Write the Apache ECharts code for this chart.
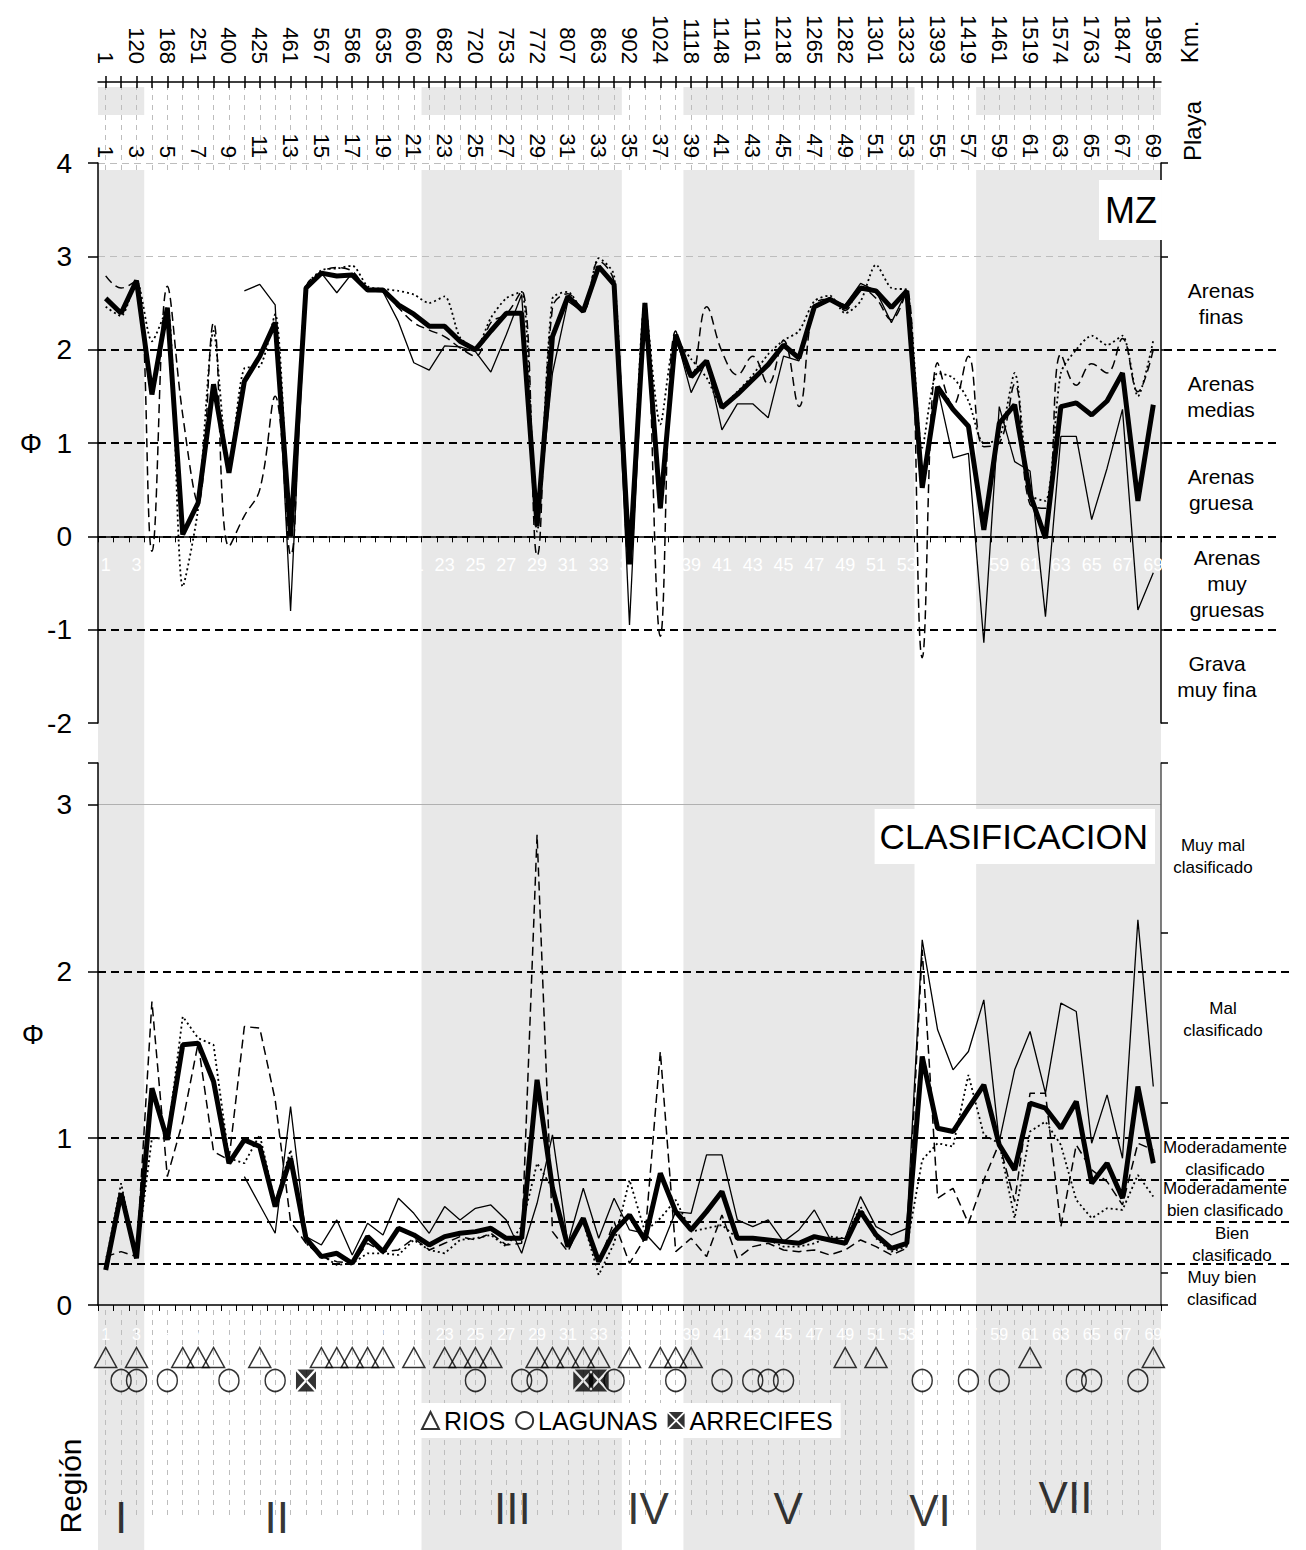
<!DOCTYPE html>
<html>
<head>
<meta charset="utf-8">
<script src="https://cdn.jsdelivr.net/npm/echarts@6/dist/echarts.min.js"></script>
<style>
  html, body { margin: 0; padding: 0; background: #fff; }
  #chart { width: 1306px; height: 1550px; }
</style>
</head>
<body>
<div id="chart"></div>
<script>
// ---------------------------------------------------------------------------
// Data
// ---------------------------------------------------------------------------
const beaches = ['1','2','3','4','5','6','7','8','9','10','11','12','13','14','15','16','17','18','19','20',
  '21','22','23','24','25','26','27','28','29','30','31','32','33','34','35','36','37','38','39','40',
  '41','42','43','44','45','46','47','48','49','50','51','52','53','54','55','56','57','58','59','60',
  '61','62','63','64','65','66','67','68','69'];

// Distance along the coast (km) for the odd-numbered beaches 1, 3, 5 ... 69
const kmOddBeaches = [1,120,168,251,400,425,461,567,586,635,660,682,720,753,772,807,863,902,
  1024,1118,1148,1161,1218,1265,1282,1301,1323,1393,1419,1461,1519,1574,1763,1847,1958];

// Mean grain size MZ (phi)
const mzPromedio = [2.55,2.39,2.74,1.52,2.45,0.02,0.36,1.63,0.68,1.66,1.93,2.29,0.00,2.66,2.82,2.79,2.80,2.64,2.64,2.48,
  2.38,2.25,2.25,2.09,2.00,2.20,2.39,2.39,0.11,2.14,2.57,2.41,2.89,2.70,-0.30,2.50,0.30,2.16,1.71,1.88,
  1.38,1.52,1.68,1.84,2.05,1.91,2.46,2.54,2.45,2.66,2.63,2.45,2.63,0.52,1.60,1.36,1.18,0.07,1.21,1.41,
  0.45,-0.02,1.39,1.43,1.30,1.45,1.75,0.38,1.41];
const mzMuestreoA = [null,null,null,null,null,null,null,null,null,2.63,2.70,2.48,-0.80,2.66,2.82,2.61,2.82,2.63,2.62,2.30,
  1.86,1.78,2.04,2.03,1.98,1.76,2.16,2.59,0.12,1.75,2.52,2.40,2.88,2.68,-0.95,2.50,0.30,2.16,1.54,1.88,
  1.14,1.42,1.42,1.27,1.93,1.88,2.45,2.54,2.48,2.71,2.63,2.29,2.63,0.55,1.59,0.84,0.89,-1.14,1.39,0.80,
  0.70,-0.86,1.07,1.07,0.18,0.73,1.36,-0.79,-0.39];
const mzMuestreoB = [2.79,2.66,2.74,-0.16,2.68,1.30,0.36,2.29,-0.11,0.22,0.50,1.50,-0.20,2.66,2.83,2.88,2.84,2.65,2.62,2.45,
  2.29,2.21,2.14,2.02,1.93,2.29,2.38,2.63,-0.21,2.45,2.60,2.42,2.95,2.72,-0.30,2.50,-1.07,2.20,1.70,2.46,
  1.98,1.73,1.93,1.63,2.10,1.39,2.48,2.54,2.42,2.66,2.55,2.32,2.63,-1.30,1.86,1.40,1.93,0.96,1.00,1.63,
  0.34,0.30,1.95,1.62,1.85,1.75,2.12,1.55,2.00];
const mzMuestreoC = [2.46,2.36,2.74,2.09,2.45,-0.54,0.30,2.20,0.70,1.80,1.82,2.38,0.00,2.66,2.85,2.87,2.90,2.68,2.65,2.63,
  2.59,2.50,2.57,2.13,2.02,2.34,2.55,2.62,0.05,2.55,2.62,2.40,2.98,2.80,-0.20,2.50,1.20,2.10,1.90,1.70,
  1.41,1.55,1.73,1.95,2.10,2.20,2.52,2.58,2.39,2.52,2.91,2.66,2.64,0.95,1.75,1.70,1.45,1.00,1.05,1.75,
  0.45,0.38,1.75,2.00,2.15,2.05,2.15,1.50,2.10];

// Sorting (phi)
const clPromedio = [0.21,0.67,0.28,1.30,0.99,1.56,1.57,1.34,0.85,0.99,0.95,0.59,0.88,0.40,0.29,0.31,0.25,0.41,0.32,0.46,
  0.42,0.36,0.41,0.43,0.44,0.46,0.40,0.40,1.35,0.70,0.35,0.52,0.26,0.44,0.54,0.39,0.79,0.56,0.45,0.56,
  0.68,0.40,0.40,0.39,0.38,0.37,0.41,0.39,0.37,0.56,0.42,0.34,0.37,1.49,1.06,1.04,1.18,1.32,0.96,0.81,
  1.21,1.18,1.06,1.22,0.73,0.85,0.64,1.31,0.85];
const clMuestreoA = [null,null,null,null,null,null,null,null,null,0.77,0.60,0.43,1.19,0.41,0.36,0.51,0.30,0.49,0.42,0.64,
  0.55,0.43,0.59,0.51,0.58,0.60,0.51,0.31,0.61,1.02,0.37,0.70,0.40,0.64,0.45,0.43,0.33,0.56,0.55,0.90,
  0.90,0.51,0.47,0.51,0.38,0.45,0.57,0.40,0.40,0.65,0.47,0.42,0.46,2.19,1.65,1.41,1.52,1.83,0.98,1.41,
  1.64,1.27,1.81,1.76,0.97,1.26,0.88,2.31,1.31];
const clMuestreoB = [0.29,0.32,0.29,1.82,0.77,1.10,1.57,0.92,0.87,1.67,1.66,1.23,0.50,0.37,0.29,0.26,0.25,0.37,0.32,0.33,
  0.40,0.33,0.37,0.41,0.39,0.43,0.36,0.37,2.82,0.44,0.32,0.52,0.25,0.50,0.25,0.40,1.52,0.32,0.40,0.29,
  0.54,0.28,0.35,0.37,0.33,0.32,0.33,0.30,0.33,0.39,0.35,0.30,0.34,2.13,0.64,0.70,0.49,0.75,0.97,0.62,
  1.27,1.27,0.47,0.96,0.81,0.74,0.60,0.97,0.93];
const clMuestreoC = [0.25,0.73,0.28,1.00,1.00,1.73,1.60,1.56,0.88,0.85,1.02,0.61,0.93,0.37,0.30,0.24,0.25,0.31,0.31,0.30,
  0.39,0.33,0.31,0.39,0.40,0.42,0.35,0.47,0.85,0.70,0.37,0.50,0.18,0.37,0.75,0.44,0.52,0.63,0.44,0.46,
  0.48,0.40,0.41,0.39,0.35,0.35,0.37,0.41,0.40,0.59,0.40,0.32,0.35,0.87,0.97,0.95,1.38,1.02,0.97,0.52,
  1.04,1.10,0.96,0.63,0.52,0.58,0.57,0.78,0.65];

// Class limits (phi)
const mzLimits = [2, 1, 0, -1];
const mzClassNames = ['Arenas\nfinas', 'Arenas\nmedias', 'Arenas\ngruesa', 'Arenas\nmuy\ngruesas', 'Grava\nmuy fina'];
const mzClassMid = [2.5, 1.5, 0.5, -0.5, -1.5];
const clLimits = [2, 1, 0.75, 0.5, 0.25];
const clClassNames = ['Muy mal\nclasificado', 'Mal\nclasificado', 'Moderadamente\nclasificado',
  'Moderadamente\nbien clasificado', 'Bien\nclasificado', 'Muy bien\nclasificad'];

// Beaches next to rivers, lagoons and reefs
const rios = [1,3,6,7,8,11,15,16,17,18,19,21,23,24,25,26,29,30,31,32,33,35,37,38,39,49,51,61,69];
const lagunas = [2,3,5,9,12,25,28,29,34,38,41,43,44,45,54,57,59,64,65,68];
const arrecifes = [14,32,33];

// Regions: name, first beach, last beach, shaded
const regionNames = ['I','II','III','IV','V','VI','VII'];
const regionStart = [1, 4, 22, 35, 39, 54, 58];
const regionEnd   = [3, 21, 34, 38, 53, 57, 69];
const regionShaded = [true, false, true, false, true, false, true];

// ---------------------------------------------------------------------------
// Layout
// ---------------------------------------------------------------------------
const FONT = '"Liberation Sans", Arial, Helvetica, sans-serif';
const BAND = '#e8e8e8';
const PL = 98, PW = 1063;
const MZ_TOP = 163, MZ_H = 560, MZ_MIN = -2, MZ_MAX = 4;
const regionLabelAt = [2.0, 12.1, 27.4, 36.2, 45.3, 54.5, 63.3];
const regionLabelY  = [0.38, 0.38, 0.52, 0.52, 0.52, 0.50, 0.70];
const clLabelAt = [2.69, 1.71, 0.88, 0.63, 0.36, 0.10];
const mzLabelX = [1221, 1221, 1221, 1227, 1217];
const clLabelX = [1213, 1223, 1225, 1225, 1232, 1222];

const reefSymbol = 'path://M1.5,0L18.5,0L10,8.5Z M20,1.5L20,18.5L11.5,10Z M18.5,20L1.5,20L10,11.5Z M0,18.5L0,1.5L8.5,10Z';

const bandAreas = [];
regionNames.forEach((n, i) => {
  if (regionShaded[i]) bandAreas.push([{ xAxis: regionStart[i] - 0.5 }, { xAxis: regionEnd[i] + 0.5 }]);
});

const blackLine = { color: '#000', width: 1.5 };
const noMarkerLine = { silent: true, symbol: ['none', 'none'], label: { show: false }, animation: false };

function dataLine(name, values, xi, yi, style, smooth, z) {
  return {
    name: name, type: 'line', xAxisIndex: xi, yAxisIndex: yi, data: values,
    showSymbol: false, symbol: 'none', smooth: smooth, connectNulls: false,
    lineStyle: Object.assign({ color: '#000' }, style), z: z, silent: true, animation: false
  };
}
const sThick = { width: 5 };
const sThin = { width: 1.3 };
const sDash = { width: 1.5, type: [9, 5] };
const sDot = { width: 1.8, type: [2, 3] };

const option = {
  animation: false,
  backgroundColor: '#fff',
  textStyle: { fontFamily: FONT },
  title: [
    { text: 'MZ', right: 144, top: 180, backgroundColor: '#fff', padding: [12, 5, 12, 6],
      textStyle: { fontSize: 36, fontWeight: 'normal', color: '#000', fontFamily: FONT } },
    { text: 'CLASIFICACION', right: 151, top: 809, backgroundColor: '#fff', padding: [10, 7, 10, 5],
      textStyle: { fontSize: 35, fontWeight: 'normal', color: '#000', fontFamily: FONT } }
  ],
  legend: {
    data: ['RIOS', 'LAGUNAS', 'ARRECIFES'], left: 419, top: 1403, orient: 'horizontal',
    itemGap: 10, itemWidth: 17, itemHeight: 17, backgroundColor: '#fff', padding: [5, 8, 5, 2],
    selectedMode: false, textStyle: { fontSize: 25, color: '#000', fontFamily: FONT }, z: 10
  },
  grid: [
    { left: PL, width: PW, top: 170, bottom: 0 },      // 0 shaded regions
    { left: PL, width: PW, top: 87, height: 28 },      // 1 shaded regions, header strip
    { left: PL, width: PW, top: 82, height: 88 },      // 2 km axis + guides
    { left: PL, width: PW, top: MZ_TOP, height: MZ_H },  // 3 MZ
    { left: PL, right: 26, top: MZ_TOP, height: MZ_H },  // 4 MZ class limits
    { left: PL, width: PW, top: 763, height: 542 },    // 5 sorting
    { left: PL, right: 14, top: 763, height: 542 },    // 6 sorting class limits
    { left: PL, width: PW, top: 1310, height: 205 },   // 7 guides under the plots
    { left: PL, width: PW, top: 1346, height: 46 },    // 8 rivers / lagoons / reefs
    { left: PL, width: PW, top: 1478, height: 64 },    // 9 region names
    // 10: beach axis of the MZ panel, its bottom edge sitting on phi = 0
    { left: PL, width: PW, top: MZ_TOP, height: MZ_H * MZ_MAX / (MZ_MAX - MZ_MIN) }
  ],
  xAxis: [
    { gridIndex: 0, type: 'value', min: 0.5, max: 69.5, show: false },
    { gridIndex: 1, type: 'value', min: 0.5, max: 69.5, show: false },
    { gridIndex: 2, type: 'category', data: beaches, position: 'top', z: 2,
      axisLine: { show: true, onZero: false, lineStyle: blackLine },
      axisTick: { show: true, alignWithLabel: true, interval: 0, length: 6, lineStyle: blackLine },
      axisLabel: { interval: 1, rotate: 90, margin: 18, fontSize: 22, color: '#000', fontFamily: FONT,
        formatter: (v, i) => String(kmOddBeaches[i / 2]) },
      splitLine: { show: false } },
    { gridIndex: 2, type: 'category', data: beaches, position: 'top', z: 2,
      axisLine: { show: false, onZero: false },
      axisTick: { show: true, inside: true, alignWithLabel: true, interval: 0, length: 6, lineStyle: blackLine },
      axisLabel: { show: false }, splitLine: { show: false } },
    { gridIndex: 3, type: 'category', data: beaches, position: 'top', z: 2,
      axisLine: { show: false, onZero: false }, axisTick: { show: false },
      axisLabel: { interval: 1, rotate: 90, margin: 5, fontSize: 22, color: '#000', fontFamily: FONT },
      splitLine: { show: false } },
    { gridIndex: 3, type: 'category', data: beaches, position: 'bottom', show: false,
      axisLine: { onZero: false } },
    { gridIndex: 4, type: 'value', min: 0.5, max: 69.5, show: false },
    { gridIndex: 5, type: 'category', data: beaches, position: 'bottom', z: 2,
      axisLine: { show: true, onZero: false, lineStyle: blackLine },
      axisTick: { show: true, interval: 0, length: 6, lineStyle: { color: '#000', width: 1 } },
      axisLabel: { interval: 1, margin: 21, fontSize: 16, color: '#fff', fontFamily: FONT },
      splitLine: { show: false } },
    { gridIndex: 6, type: 'value', min: 0.5, max: 69.5, show: false },
    { gridIndex: 7, type: 'category', data: beaches, show: false },
    { gridIndex: 8, type: 'category', data: beaches, show: false },
    { gridIndex: 9, type: 'value', min: 0.5, max: 69.5, show: false },
    { gridIndex: 10, type: 'category', data: beaches, position: 'bottom', z: 2,
      axisLine: { show: true, onZero: false, lineStyle: blackLine },
      axisTick: { show: true, interval: 0, length: 6, lineStyle: { color: '#000', width: 1 } },
      axisLabel: { interval: 1, margin: 20, fontSize: 18, color: '#fff', fontFamily: FONT },
      splitLine: { show: false } }
  ],
  yAxis: [
    { gridIndex: 0, type: 'value', min: 0, max: 1, show: false },
    { gridIndex: 1, type: 'value', min: 0, max: 1, show: false },
    { gridIndex: 2, type: 'value', min: 0, max: 1, show: false },
    { gridIndex: 3, type: 'value', min: MZ_MIN, max: MZ_MAX, interval: 1, position: 'left', z: 2,
      axisLine: { show: true, onZero: false, lineStyle: blackLine },
      axisTick: { show: true, length: 10, lineStyle: blackLine },
      axisLabel: { fontSize: 28, margin: 26, color: '#000', fontFamily: FONT },
      splitLine: { show: false } },
    { gridIndex: 3, type: 'value', min: MZ_MIN, max: MZ_MAX, interval: 1, position: 'right', z: 2,
      axisLine: { show: true, onZero: false, lineStyle: blackLine },
      axisTick: { show: true, length: 7, lineStyle: blackLine },
      axisLabel: { show: false }, splitLine: { show: false } },
    { gridIndex: 4, type: 'value', min: MZ_MIN, max: MZ_MAX, show: false },
    { gridIndex: 5, type: 'value', min: 0, max: 3.25, interval: 1, position: 'left', z: 2,
      axisLine: { show: true, onZero: false, lineStyle: blackLine },
      axisTick: { show: true, length: 10, lineStyle: blackLine },
      axisLabel: { fontSize: 28, margin: 26, color: '#000', fontFamily: FONT,
        formatter: v => (Number.isInteger(v) ? String(v) : '') },
      splitLine: { show: false } },
    { gridIndex: 5, type: 'value', min: 0, max: 3.19, interval: 1, inverse: true, position: 'right', z: 2,
      axisLine: { show: true, onZero: false, lineStyle: { color: '#555', width: 1.5 } },
      axisTick: { show: true, length: 7, lineStyle: blackLine },
      axisLabel: { show: false }, splitLine: { show: false } },
    { gridIndex: 6, type: 'value', min: 0, max: 3.25, show: false },
    { gridIndex: 7, type: 'value', min: 0, max: 1, show: false },
    { gridIndex: 8, type: 'category', data: ['rios', 'lagunas'], inverse: true, show: false },
    { gridIndex: 9, type: 'value', min: 0, max: 1, show: false },
    { gridIndex: 10, type: 'value', min: 0, max: MZ_MAX, show: false }
  ],
  series: [
    // shaded regions
    { type: 'line', xAxisIndex: 0, yAxisIndex: 0, data: [], z: -2, silent: true,
      markArea: { silent: true, z: -2, itemStyle: { color: BAND }, data: bandAreas } },
    { type: 'line', xAxisIndex: 1, yAxisIndex: 1, data: [], z: -2, silent: true,
      markArea: { silent: true, z: -2, itemStyle: { color: BAND }, data: bandAreas } },
    // beach guides
    { type: 'line', xAxisIndex: 2, yAxisIndex: 2, data: [], z: 1, silent: true,
      markLine: Object.assign({}, noMarkerLine, { z: 1,
        lineStyle: { color: '#bdbdbd', type: [5, 5], width: 1 },
        data: beaches.map(b => ({ xAxis: b })) }) },
    { type: 'line', xAxisIndex: 9, yAxisIndex: 9, data: [], z: 1, silent: true,
      markLine: Object.assign({}, noMarkerLine, { z: 1,
        lineStyle: { color: '#bdbdbd', type: [5, 5], width: 1 },
        data: beaches.map(b => ({ xAxis: b })) }) },
    // gridlines
    { type: 'line', xAxisIndex: 5, yAxisIndex: 3, data: [], z: 1, silent: true,
      markLine: Object.assign({}, noMarkerLine, { z: 1,
        lineStyle: { color: '#bdbdbd', type: [7, 5], width: 1 },
        data: [{ yAxis: 3 }, { yAxis: 4 }] }) },
    { type: 'line', xAxisIndex: 7, yAxisIndex: 6, data: [], z: 1, silent: true,
      markLine: Object.assign({}, noMarkerLine, { z: 1,
        lineStyle: { color: '#b0b0b0', type: 'solid', width: 1 },
        data: [{ yAxis: 3 }] }) },
    // class limits
    { type: 'line', xAxisIndex: 6, yAxisIndex: 5, data: [], z: 3, silent: true,
      markLine: Object.assign({}, noMarkerLine, { z: 3,
        lineStyle: { color: '#000', type: [8, 5], width: 2 },
        data: mzLimits.map(v => ({ yAxis: v })) }) },
    { type: 'line', xAxisIndex: 8, yAxisIndex: 8, data: [], z: 3, silent: true,
      markLine: Object.assign({}, noMarkerLine, { z: 3,
        lineStyle: { color: '#000', type: [8, 5], width: 2 },
        data: clLimits.map(v => ({ yAxis: v })) }) },
    // MZ
    dataLine('MZ A', mzMuestreoA, 5, 3, sThin, false, 4),
    dataLine('MZ B', mzMuestreoB, 5, 3, sDash, 0.4, 4),
    dataLine('MZ C', mzMuestreoC, 5, 3, sDot, 0.25, 4),
    dataLine('MZ promedio', mzPromedio, 5, 3, sThick, false, 5),
    // Sorting
    dataLine('CL A', clMuestreoA, 7, 6, sThin, false, 4),
    dataLine('CL B', clMuestreoB, 7, 6, sDash, false, 4),
    dataLine('CL C', clMuestreoC, 7, 6, sDot, false, 4),
    dataLine('CL promedio', clPromedio, 7, 6, sThick, false, 5),
    // Rivers, lagoons, reefs
    { name: 'RIOS', type: 'scatter', xAxisIndex: 10, yAxisIndex: 10, symbol: 'triangle', symbolSize: [22, 20],
      itemStyle: { color: 'transparent', borderColor: '#000', borderWidth: 1.5 },
      data: rios.map(b => [String(b), 'rios']), z: 6, silent: true },
    { name: 'LAGUNAS', type: 'scatter', xAxisIndex: 10, yAxisIndex: 10, symbol: 'circle', symbolSize: [20, 22],
      itemStyle: { color: 'transparent', borderColor: '#000', borderWidth: 1.5 },
      data: lagunas.map(b => [String(b), 'lagunas']), z: 6, silent: true },
    { name: 'ARRECIFES', type: 'scatter', xAxisIndex: 10, yAxisIndex: 10, symbol: reefSymbol, symbolSize: [20, 22],
      itemStyle: { color: '#000' },
      data: arrecifes.map(b => [String(b), 'lagunas']), z: 7, silent: true },
    // Region names
    { type: 'scatter', xAxisIndex: 11, yAxisIndex: 11, symbolSize: 0, silent: true, z: 6,
      data: regionNames.map((n, i) => ({ name: n, value: [regionLabelAt[i], regionLabelY[i]] })),
      label: { show: true, position: 'inside', formatter: '{b}', fontSize: 44, color: '#000', fontFamily: FONT } }
  ]
};

const chart = echarts.init(document.getElementById('chart'), null, { renderer: 'svg', width: 1306, height: 1550 });
chart.setOption(option);

// Class names and side titles, placed through the axes' scales
const yMZ = v => chart.convertToPixel({ yAxisIndex: 5 }, v);
const yCL = v => chart.convertToPixel({ yAxisIndex: 8 }, v);
const graphics = [];
mzClassNames.forEach((t, i) => graphics.push({
  type: 'text', x: mzLabelX[i], y: yMZ(mzClassMid[i]), silent: true,
  style: { text: t, align: 'center', verticalAlign: 'middle', fontSize: 21, lineHeight: 26, fontFamily: FONT, fill: '#000' }
}));
clClassNames.forEach((t, i) => graphics.push({
  type: 'text', x: clLabelX[i], y: yCL(clLabelAt[i]), silent: true,
  style: { text: t, align: 'center', verticalAlign: 'middle', fontSize: 17, lineHeight: 22, fontFamily: FONT, fill: '#000' }
}));
graphics.push(
  { type: 'text', x: 31, y: yMZ(1), silent: true,
    style: { text: 'Φ', align: 'center', verticalAlign: 'middle', fontSize: 28, fontFamily: FONT, fill: '#000' } },
  { type: 'text', x: 33, y: yCL(1.625), silent: true,
    style: { text: 'Φ', align: 'center', verticalAlign: 'middle', fontSize: 28, fontFamily: FONT, fill: '#000' } },
  { type: 'text', x: 1189, y: 42, rotation: Math.PI / 2, silent: true,
    style: { text: 'Km.', align: 'center', verticalAlign: 'middle', fontSize: 24, fontFamily: FONT, fill: '#000' } },
  { type: 'text', x: 1192, y: 131, rotation: Math.PI / 2, silent: true,
    style: { text: 'Playa', align: 'center', verticalAlign: 'middle', fontSize: 24, fontFamily: FONT, fill: '#000' } },
  { type: 'text', x: 70, y: 1486, rotation: Math.PI / 2, silent: true,
    style: { text: 'Región', align: 'center', verticalAlign: 'middle', fontSize: 30, fontFamily: FONT, fill: '#000' } }
);
chart.setOption({ graphic: graphics });
</script>
</body>
</html>
